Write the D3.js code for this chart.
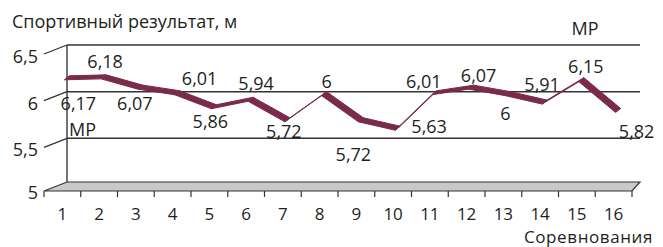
<!DOCTYPE html>
<html>
<head>
<meta charset="utf-8">
<script src="https://cdn.jsdelivr.net/npm/d3@7"></script>
<style>
  body { margin: 0; background: #fff; }
  text { font-family: "Open Sans", sans-serif; fill: #231f20; }
</style>
</head>
<body>
<div id="chart"></div>
<script>
(function() {

    // data
    var competitions = ["1", "2", "3", "4", "5", "6", "7", "8", "9", "10", "11", "12", "13", "14", "15", "16"];
    var results = [6.17, 6.18, 6.07, 6.01, 5.86, 5.94, 5.72, 6, 5.72, 5.63, 6.01, 6.07, 6, 5.91, 6.15, 5.82];
    var yTicks = [5, 5.5, 6, 6.5];
    var yTickLabels = ["5", "5,5", "6", "6,5"];

    // label nudges (dx, dy from the point), layout only
    var labelNudge = [[12, 34], [2, -7], [-5, 25], [23, -6], [-3, 23], [6, -7], [-3, 20], [3, -4],
        [-7, 43], [32, 7], [-10, -3], [8, -3], [-2, 28], [-2, -9], [5, -5], [19, 30]];

    var width = 663, height = 247;
    var frontLeft = 44, frontRight = 632, floorFront = 191;
    var backLeft = 67, backRight = 640;

    var svg = d3.select("#chart")
        .append("svg")
        .attr("width", width)
        .attr("height", height);

    var x = d3.scaleBand()
        .domain(competitions)
        .range([frontLeft, frontRight]);

    var y = d3.scaleLinear()
        .domain([5, 6.5])
        .range([185, 45]);

    var fmt = function(v) { return String(v).replace(".", ","); };

    // title
    svg.append("text")
        .attr("x", 12)
        .attr("y", 28)
        .style("font-size", "18px")
        .text("Спортивный результат, м");

    // floor
    var floorBack = y(5) - 3;
    svg.append("path")
        .attr("d", "M" + backLeft + "," + floorBack + "L" + backRight + "," + floorBack +
            "L" + frontRight + "," + floorFront + "L" + frontLeft + "," + floorFront + "Z")
        .attr("fill", "#c9c9c9")
        .attr("stroke", "#333")
        .attr("stroke-width", 1.2);

    // back wall line
    svg.append("line")
        .attr("x1", backLeft).attr("x2", backLeft)
        .attr("y1", y(6.5)).attr("y2", floorBack)
        .attr("stroke", "#444")
        .attr("stroke-width", 1.5);

    // gridlines
    svg.selectAll(".grid")
        .data(yTicks.filter(function(d) { return d > 5; }))
        .enter()
        .append("line")
        .attr("class", "grid")
        .attr("x1", backLeft)
        .attr("x2", backRight)
        .attr("y1", function(d) { return y(d); })
        .attr("y2", function(d) { return y(d); })
        .attr("stroke", "#333")
        .attr("stroke-width", 1.5);

    // slanted y ticks + labels
    svg.selectAll(".ytick")
        .data(yTicks.filter(function(d) { return d > 5; }))
        .enter()
        .append("line")
        .attr("class", "ytick")
        .attr("x1", frontLeft)
        .attr("x2", backLeft)
        .attr("y1", function(d) { return y(d) + 9; })
        .attr("y2", function(d) { return y(d); })
        .attr("stroke", "#333")
        .attr("stroke-width", 1.2);

    svg.selectAll(".ylabel")
        .data(yTicks)
        .enter()
        .append("text")
        .attr("class", "ylabel")
        .attr("x", 38)
        .attr("y", function(d) { return d === 5 ? floorFront + 8 : y(d) + 18; })
        .attr("text-anchor", "end")
        .style("font-size", "18px")
        .text(function(d, i) { return yTickLabels[i]; });

    // x axis ticks along the floor front edge
    var xTickPos = competitions.map(function(c) { return x(c); }).concat([frontRight]);
    svg.selectAll(".xtick")
        .data(xTickPos)
        .enter()
        .append("line")
        .attr("class", "xtick")
        .attr("x1", function(d) { return d; })
        .attr("x2", function(d) { return d; })
        .attr("y1", floorFront)
        .attr("y2", floorFront + 6)
        .attr("stroke", "#333")
        .attr("stroke-width", 1.2);

    svg.selectAll(".xlabel")
        .data(competitions)
        .enter()
        .append("text")
        .attr("class", "xlabel")
        .attr("x", function(d) { return x(d) + x.bandwidth() / 2; })
        .attr("y", 220)
        .attr("text-anchor", "middle")
        .style("font-size", "17px")
        .text(function(d) { return d; });

    svg.append("text")
        .attr("x", 653)
        .attr("y", 243)
        .attr("text-anchor", "end")
        .style("font-size", "17px")
        .style("letter-spacing", "0.6px")
        .text("Соревнования");

    // the 3D ribbon line
    var pts = results.map(function(v, i) {
        return [x(competitions[i]) + x.bandwidth() / 2 + 4, y(v)];
    });
    var front = [-2, 4], back = [3, 0];
    var segs = d3.pairs(pts);
    svg.selectAll(".seg")
        .data(segs)
        .enter()
        .append("path")
        .attr("class", "seg")
        .attr("d", function(s) {
            var a = s[0], b = s[1];
            return "M" + (a[0] + front[0]) + "," + (a[1] + front[1]) +
                "L" + (b[0] + front[0]) + "," + (b[1] + front[1]) +
                "L" + (b[0] + back[0]) + "," + (b[1] + back[1]) +
                "L" + (a[0] + back[0]) + "," + (a[1] + back[1]) + "Z";
        })
        .attr("fill", "#7a2a4a")
        .attr("stroke", "#7a2a4a")
        .attr("stroke-width", 1)
        .attr("stroke-linejoin", "round");

    // value labels
    svg.selectAll(".vlabel")
        .data(results)
        .enter()
        .append("text")
        .attr("class", "vlabel")
        .attr("x", function(d, i) { return pts[i][0] + labelNudge[i][0]; })
        .attr("y", function(d, i) { return pts[i][1] + labelNudge[i][1]; })
        .attr("text-anchor", "middle")
        .style("font-size", "18px")
        .text(fmt);

    // МР marks
    svg.append("text")
        .attr("x", 585)
        .attr("y", y(6.5) - 10)
        .attr("text-anchor", "middle")
        .style("font-size", "18px")
        .text("МР");
    svg.append("text")
        .attr("x", backLeft + 2)
        .attr("y", y(5.5) - 2)
        .style("font-size", "18px")
        .text("МР");

})();
</script>
</body>
</html>
